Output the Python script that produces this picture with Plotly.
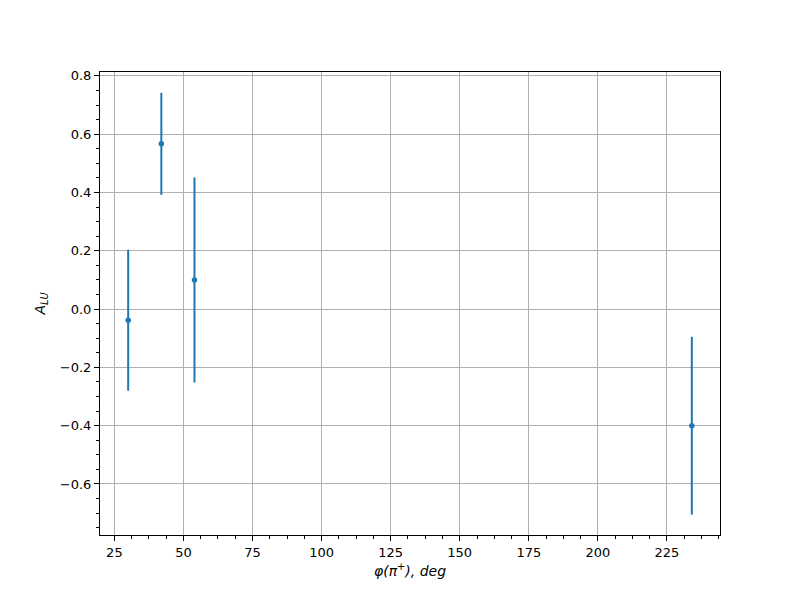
import plotly.graph_objects as go

phi_deg = [30, 42, 54, 234]
a_lu = [-0.038, 0.567, 0.100, -0.400]
a_lu_err = [0.242, 0.175, 0.352, 0.305]

x_ticks = [25, 50, 75, 100, 125, 150, 175, 200, 225]
y_ticks = [-0.6, -0.4, -0.2, 0.0, 0.2, 0.4, 0.6, 0.8]
y_tick_labels = ["\u22120.6", "\u22120.4", "\u22120.2", "0.0", "0.2", "0.4", "0.6", "0.8"]

fig = go.Figure()
fig.add_trace(go.Scatter(
    x=phi_deg, y=a_lu, mode="markers",
    marker=dict(color="#1f77b4", size=5.5),
    error_y=dict(type="data", array=a_lu_err, visible=True,
                 color="#1f77b4", thickness=2, width=0),
    showlegend=False,
))

font = dict(family="DejaVu Sans", size=13, color="black")
title_font = dict(family="DejaVu Sans", size=14, color="black")
fig.update_layout(
    width=800, height=600,
    margin=dict(l=92, r=88, t=64, b=73),
    paper_bgcolor="white", plot_bgcolor="white",
    font=font,
)
fig.update_xaxes(
    range=[19.8, 244.2], tickvals=x_ticks, ticks="outside", ticklen=5, tickwidth=1,
    tickcolor="black", showline=True, linecolor="black", linewidth=1, mirror=True,
    showgrid=True, gridcolor="#b0b0b0", gridwidth=1, zeroline=False,
    minor=dict(dtick=6.25, tick0=0, ticks="outside", ticklen=3, tickcolor="black", showgrid=False),
    title=dict(text="<i>φ(π<sup>+</sup>), deg</i>", font=title_font, standoff=7),
    tickfont=font,
)
fig.update_yaxes(
    range=[-0.775, 0.8135], tickvals=y_ticks, ticktext=y_tick_labels, ticks="outside", ticklen=5,
    tickwidth=1, tickcolor="black", showline=True, linecolor="black", linewidth=1, mirror=True,
    showgrid=True, gridcolor="#b0b0b0", gridwidth=1, zeroline=False,
    minor=dict(dtick=0.05, tick0=0, ticks="outside", ticklen=3, tickcolor="black", showgrid=False),
    title=dict(text="<i>A</i><sub><i>LU</i></sub>", font=title_font, standoff=10),
    tickfont=font,
)

fig.write_html("out.html")
